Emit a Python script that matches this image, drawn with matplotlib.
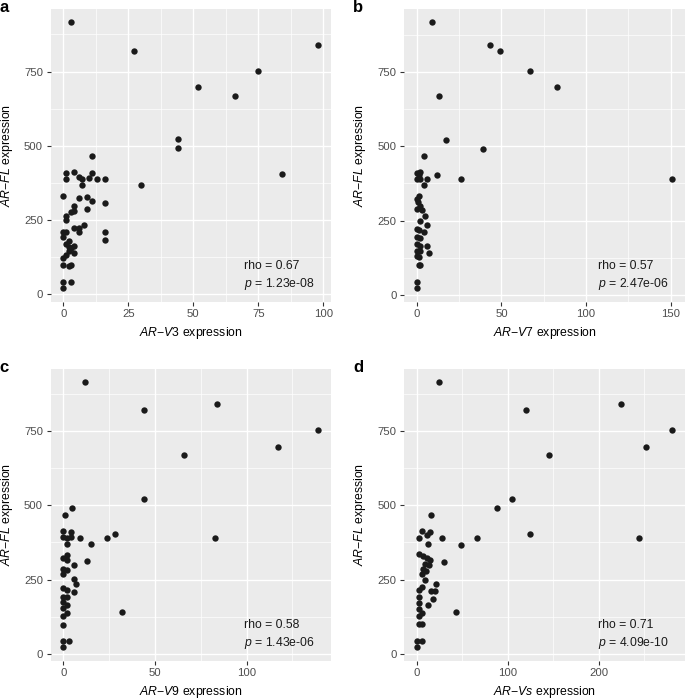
import numpy as np
import matplotlib
matplotlib.use("Agg")
import matplotlib.pyplot as plt
from matplotlib.ticker import MultipleLocator

plt.rcParams['font.family'] = ['Liberation Sans', 'DejaVu Sans']
plt.rcParams['mathtext.fontset'] = 'custom'
plt.rcParams['mathtext.rm'] = 'Liberation Sans'
plt.rcParams['mathtext.it'] = 'Liberation Sans:italic'

# panel a: AR-V3
v3_x = [3, 27, 98, 75, 52, 66, 44, 44, 84, 30, 11, 1, 1, 4, 6, 7, 7, 11, 10, 13, 16,
        0, 6, 9, 11, 16, 4, 4, 3, 9, 1, 1, 0, 1, 0, 4, 6, 6, 8, 16, 16,
        1, 2, 2, 3, 4, 4, 1, 0, 2, 0, 2, 3, 0, 3, 0]
v3_y = [916, 821, 840, 752, 698, 669, 522, 492, 404, 367, 467, 409, 388, 413, 396, 388, 368, 409, 391, 388, 390,
        332, 323, 327, 315, 309, 298, 282, 278, 287, 265, 249, 210, 209, 193, 223, 222, 209, 235, 210, 184,
        168, 180, 161, 155, 164, 139, 132, 123, 146, 99, 97, 99, 40, 40, 20]

# panel b: AR-V7
v7_x = [9, 43, 49, 67, 83, 13, 17, 39, 4, 12, 26, 151,
        0, 2, 1, 0, 2, 6, 4, 1, 0, 0.4, 2, 0, 3, 5, 2, 6, 0, 1, 4, 0, 2, 0, 2, 6,
        0, 2, 7, 0, 1.4, 1, 2, 0, 0]
v7_y = [916, 840, 821, 752, 698, 669, 522, 492, 467, 404, 388, 390,
        410, 412, 402, 390, 390, 390, 368, 333, 323, 313, 300, 290, 284, 266, 250, 235, 222, 217, 211, 196, 191, 172, 164, 164,
        149, 147, 140, 132, 127, 102, 99, 43, 22]

# panel c: AR-V9
v9_x = [12, 44, 84, 139, 117, 66, 44, 83, 32,
        4.9, 1, 0, 4, 0, 4, 2, 9, 24, 28, 2, 15, 0, 2, 2, 6, 13, 0, 2, 0, 6, 7, 6,
        0, 2, 0, 2, 0, 2, 0, 2, 0, 0, 0, 3, 0]
v9_y = [916, 821, 841, 753, 698, 670, 523, 390, 141,
        492, 469, 414, 410, 394, 394, 391, 389, 390, 405, 371, 369, 324, 332, 315, 299, 311, 287, 281, 268, 251, 236, 209,
        223, 214, 193, 193, 174, 163, 154, 138, 127, 98, 43, 43, 22]

# panel d: AR-Vs
vs_x = [24, 120, 225, 281, 252, 145, 105, 88, 124, 244, 66, 49, 28, 30, 43,
        16, 5.5, 14, 2.5, 11, 12, 2.5, 7, 11, 14, 9, 13, 7, 10, 6, 9, 21, 2, 5.5, 16, 20,
        2, 18, 12, 2, 2, 5.5, 2, 2, 5.5, 0, 5.5, 0]
vs_y = [916, 821, 841, 752, 698, 670, 523, 492, 405, 390, 390, 368, 390, 310, 141,
        469, 414, 410, 391, 399, 371, 335, 328, 324, 315, 304, 298, 287, 279, 270, 250, 235, 214, 225, 210, 213,
        191, 186, 165, 171, 152, 139, 126, 101, 99, 42, 42, 22]

panels = [
    ('a', v3_x, v3_y, 'V3', 0.67, '1.23e-08', [0, 25, 50, 75, 100]),
    ('b', v7_x, v7_y, 'V7', 0.57, '2.47e-06', [0, 50, 100, 150]),
    ('c', v9_x, v9_y, 'V9', 0.58, '1.43e-06', [0, 50, 100]),
    ('d', vs_x, vs_y, 'Vs', 0.71, '4.09e-10', [0, 100, 200]),
]

W, H = 685, 699
boxes = [(50.6, 9.0, 330.8, 301.7), (404.2, 9.0, 685, 301.7),
         (50.6, 368.5, 330.8, 660.6), (404.2, 368.5, 685, 660.6)]

fig = plt.figure(figsize=(W / 100, H / 100), dpi=100)

for (letter, xs, ys, name, rho, pval, xt), (l, t, r, b) in zip(panels, boxes):
    pw, ph = r - l, b - t
    ax = fig.add_axes([l / W, 1 - b / H, pw / W, ph / H])
    ax.set_facecolor('#EBEBEB')
    for s in ax.spines.values():
        s.set_visible(False)
    ax.scatter(xs, ys, s=21, color='#1A1A1A', linewidths=0, zorder=3)

    xr = max(xs) - min(xs)
    ax.set_xlim(min(xs) - 0.05 * xr, max(xs) + 0.05 * xr)
    yr = max(ys) - min(ys)
    ax.set_ylim(min(ys) - 0.05 * yr, max(ys) + 0.05 * yr)

    ax.set_xticks(xt)
    ax.set_yticks([0, 250, 500, 750])
    step = xt[1] - xt[0]
    ax.xaxis.set_minor_locator(MultipleLocator(step / 2))
    ax.yaxis.set_minor_locator(MultipleLocator(125))
    ax.grid(which='major', color='white', lw=1.0, zorder=0)
    ax.grid(which='minor', color='white', lw=0.5, zorder=0)
    ax.set_axisbelow(True)
    ax.tick_params(which='major', length=3, width=0.8, color='#333333',
                   labelsize=8.2, labelcolor='#4D4D4D', pad=2.5)
    ax.tick_params(which='minor', length=0)

    ax.set_xlabel(r'$\mathit{AR{−}' + name + r'}$ expression', fontsize=8.8)
    ax.set_ylabel(r'$\mathit{AR{−}FL}$ expression', fontsize=8.8)
    # label positions in pixels relative to the panel
    ax.xaxis.set_label_coords(0.5, -23.0 / ph)
    ax.yaxis.set_label_coords(-36.0 / pw, 0.5)

    ax.text(0.69, 0.123, 'rho = %.2f' % rho, transform=ax.transAxes,
            fontsize=8.8, va='center', ha='left', color='#1A1A1A')
    ax.text(0.69, 0.060, r'$\mathit{p}$ = ' + pval, transform=ax.transAxes,
            fontsize=8.8, va='center', ha='left', color='#1A1A1A')

    fig.text((l - 50.6 + 4.5) / W, 1 - (t - 1.5) / H, letter, fontsize=12,
             fontweight='bold', ha='center', va='center')

fig.savefig('out.png', dpi=100)
